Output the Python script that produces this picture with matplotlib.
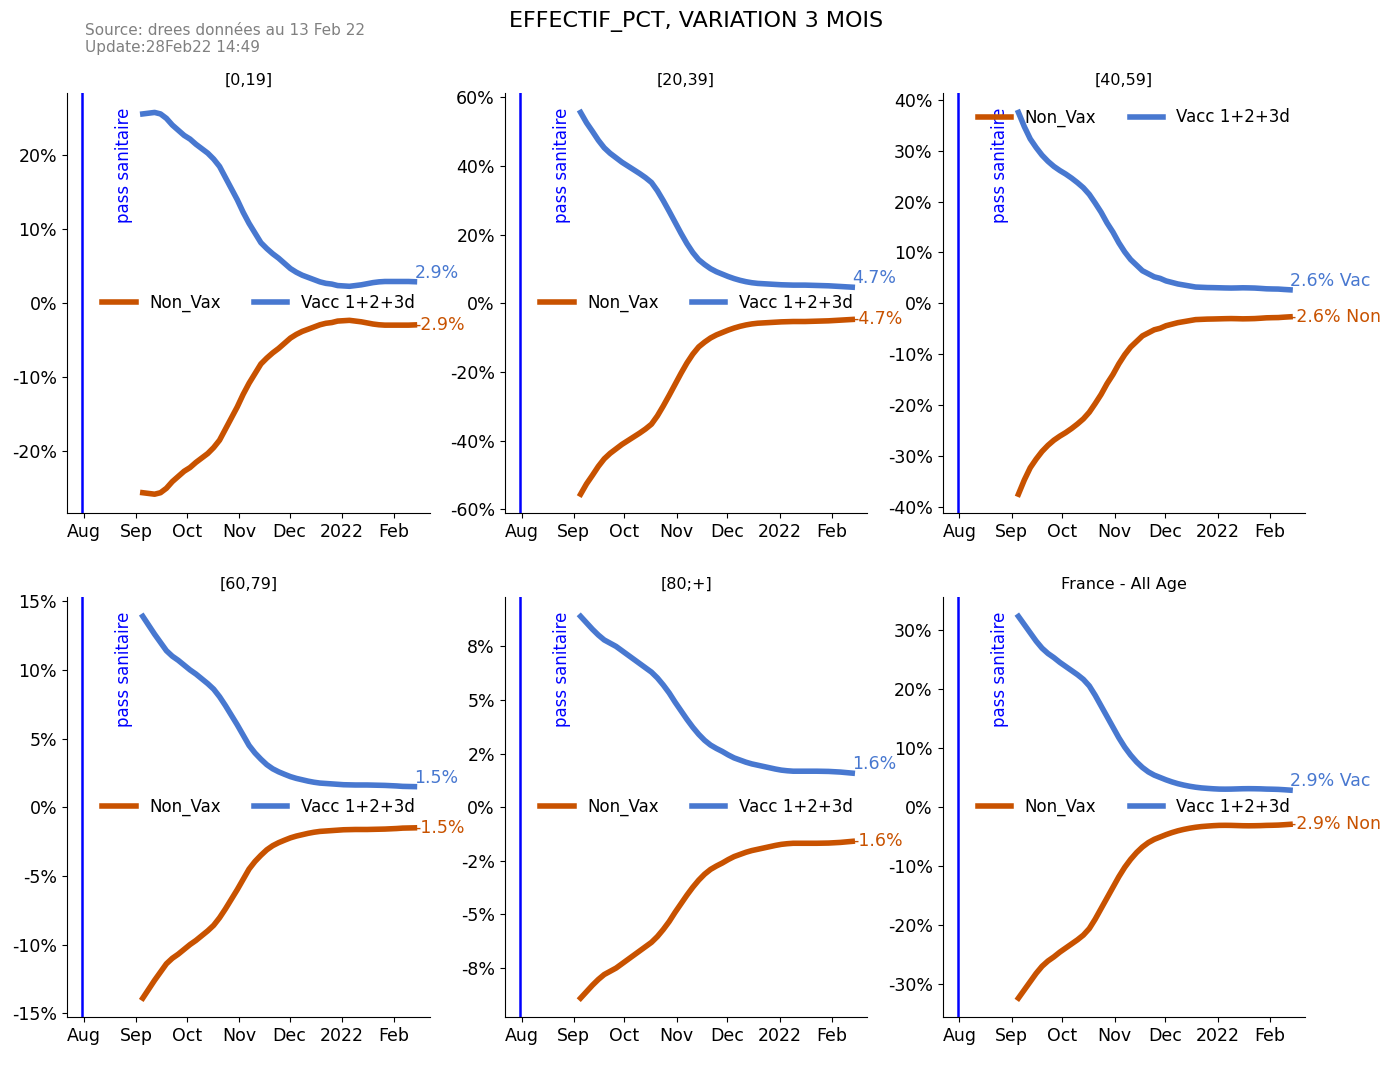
import matplotlib
matplotlib.use('Agg')
import matplotlib.pyplot as plt
import matplotlib.dates as mdates
import matplotlib.transforms as mtransforms
from matplotlib.ticker import FuncFormatter
import pandas as pd

# half-week points (every 3.5 days), 3-month variation of headcount (%)
dates = pd.date_range('2021-09-05', '2022-02-13', freq='84h')

titles = ['[0,19]', '[20,39]', '[40,59]', '[60,79]', '[80;+]', 'France - All Age']

vacc_0_19 = [25.6, 25.7, 25.8, 25.6, 25.0, 24.1, 23.4, 22.7, 22.2, 21.5, 20.9, 20.3,
             19.5, 18.5, 17.0, 15.5, 14.0, 12.3, 10.8, 9.5, 8.2, 7.4, 6.7, 6.1,
             5.4, 4.7, 4.2, 3.8, 3.5, 3.2, 2.9, 2.7, 2.6, 2.4, 2.35, 2.3,
             2.4, 2.5, 2.65, 2.8, 2.9, 2.95, 2.95, 2.95, 2.95, 2.95, 2.92]
nonvax_0_19 = [-25.6, -25.7, -25.8, -25.6, -25.0, -24.1, -23.4, -22.7, -22.2, -21.5, -20.9, -20.3,
               -19.5, -18.5, -17.0, -15.5, -14.0, -12.3, -10.8, -9.5, -8.2, -7.4, -6.7, -6.1,
               -5.4, -4.7, -4.2, -3.8, -3.5, -3.2, -2.9, -2.7, -2.6, -2.4, -2.35, -2.3,
               -2.4, -2.5, -2.65, -2.8, -2.9, -2.95, -2.95, -2.95, -2.95, -2.95, -2.92]

vacc_20_39 = [55.6, 52.6, 50.1, 47.5, 45.3, 43.7, 42.4, 41.1, 40.0, 38.9, 37.8, 36.6,
              35.2, 32.8, 29.9, 26.8, 23.6, 20.4, 17.4, 14.8, 12.7, 11.3, 10.1, 9.2,
              8.5, 7.8, 7.2, 6.7, 6.3, 6.0, 5.8, 5.7, 5.6, 5.5, 5.4, 5.35,
              5.3, 5.3, 5.3, 5.25, 5.2, 5.15, 5.1, 5.0, 4.9, 4.8, 4.7]
nonvax_20_39 = [-55.6, -52.6, -50.1, -47.5, -45.3, -43.7, -42.4, -41.1, -40.0, -38.9, -37.8, -36.6,
                -35.2, -32.8, -29.9, -26.8, -23.6, -20.4, -17.4, -14.8, -12.7, -11.3, -10.1, -9.2,
                -8.5, -7.8, -7.2, -6.7, -6.3, -6.0, -5.8, -5.7, -5.6, -5.5, -5.4, -5.35,
                -5.3, -5.3, -5.3, -5.25, -5.2, -5.15, -5.1, -5.0, -4.9, -4.8, -4.7]

vacc_40_59 = [37.5, 34.7, 32.3, 30.6, 29.1, 27.9, 26.9, 26.1, 25.4, 24.6, 23.7, 22.7,
              21.4, 19.7, 17.9, 15.8, 14.0, 11.9, 10.1, 8.6, 7.5, 6.4, 5.8, 5.2,
              4.9, 4.4, 4.1, 3.8, 3.6, 3.4, 3.2, 3.15, 3.1, 3.08, 3.05, 3.02,
              3.0, 3.02, 3.05, 3.03, 3.0, 2.93, 2.85, 2.82, 2.8, 2.72, 2.65]
nonvax_40_59 = [-37.5, -34.7, -32.3, -30.6, -29.1, -27.9, -26.9, -26.1, -25.4, -24.6, -23.7, -22.7,
                -21.4, -19.7, -17.9, -15.8, -14.0, -11.9, -10.1, -8.6, -7.5, -6.4, -5.8, -5.2,
                -4.9, -4.4, -4.1, -3.8, -3.6, -3.4, -3.2, -3.15, -3.1, -3.08, -3.05, -3.02,
                -3.0, -3.02, -3.05, -3.03, -3.0, -2.93, -2.85, -2.82, -2.8, -2.72, -2.65]

vacc_60_79 = [13.9, 13.25, 12.6, 12.0, 11.4, 11.0, 10.7, 10.35, 10.0, 9.7, 9.35, 9.0,
              8.6, 8.05, 7.4, 6.7, 6.0, 5.25, 4.5, 3.95, 3.5, 3.1, 2.8, 2.58,
              2.4, 2.23, 2.1, 2.0, 1.9, 1.82, 1.76, 1.73, 1.7, 1.67, 1.64, 1.63,
              1.62, 1.62, 1.62, 1.61, 1.6, 1.59, 1.57, 1.55, 1.52, 1.51, 1.5]
nonvax_60_79 = [-13.9, -13.25, -12.6, -12.0, -11.4, -11.0, -10.7, -10.35, -10.0, -9.7, -9.35, -9.0,
                -8.6, -8.05, -7.4, -6.7, -6.0, -5.25, -4.5, -3.95, -3.5, -3.1, -2.8, -2.58,
                -2.4, -2.23, -2.1, -2.0, -1.9, -1.82, -1.76, -1.73, -1.7, -1.67, -1.64, -1.63,
                -1.62, -1.62, -1.62, -1.61, -1.6, -1.59, -1.57, -1.55, -1.52, -1.51, -1.5]

vacc_80 = [8.9, 8.6, 8.3, 8.03, 7.8, 7.65, 7.5, 7.3, 7.1, 6.9, 6.7, 6.5,
           6.3, 6.03, 5.7, 5.33, 4.9, 4.5, 4.1, 3.73, 3.4, 3.12, 2.9, 2.74,
           2.6, 2.44, 2.3, 2.2, 2.1, 2.02, 1.96, 1.9, 1.84, 1.78, 1.73, 1.7,
           1.68, 1.68, 1.68, 1.68, 1.68, 1.675, 1.67, 1.655, 1.64, 1.615, 1.59]
nonvax_80 = [-8.9, -8.6, -8.3, -8.03, -7.8, -7.65, -7.5, -7.3, -7.1, -6.9, -6.7, -6.5,
             -6.3, -6.03, -5.7, -5.33, -4.9, -4.5, -4.1, -3.73, -3.4, -3.12, -2.9, -2.74,
             -2.6, -2.44, -2.3, -2.2, -2.1, -2.02, -1.96, -1.9, -1.84, -1.78, -1.73, -1.7,
             -1.68, -1.68, -1.68, -1.68, -1.68, -1.675, -1.67, -1.655, -1.64, -1.615, -1.59]

vacc_all = [32.4, 31.0, 29.6, 28.2, 27.0, 26.1, 25.4, 24.6, 23.9, 23.2, 22.5, 21.7,
            20.6, 19.0, 17.2, 15.4, 13.6, 11.8, 10.2, 8.85, 7.7, 6.75, 6.0, 5.45,
            5.05, 4.65, 4.3, 4.0, 3.76, 3.56, 3.4, 3.28, 3.2, 3.13, 3.08, 3.07,
            3.08, 3.11, 3.14, 3.15, 3.14, 3.12, 3.08, 3.06, 3.03, 2.97, 2.9]
nonvax_all = [-32.4, -31.0, -29.6, -28.2, -27.0, -26.1, -25.4, -24.6, -23.9, -23.2, -22.5, -21.7,
              -20.6, -19.0, -17.2, -15.4, -13.6, -11.8, -10.2, -8.85, -7.7, -6.75, -6.0, -5.45,
              -5.05, -4.65, -4.3, -4.0, -3.76, -3.56, -3.4, -3.28, -3.2, -3.13, -3.08, -3.07,
              -3.08, -3.11, -3.14, -3.15, -3.14, -3.12, -3.08, -3.06, -3.03, -2.97, -2.9]

vacc_series = [vacc_0_19, vacc_20_39, vacc_40_59, vacc_60_79, vacc_80, vacc_all]
nonvax_series = [nonvax_0_19, nonvax_20_39, nonvax_40_59, nonvax_60_79, nonvax_80, nonvax_all]
# end labels carry a short name in some panels
label_suffix = ['', '', ' Vac', '', '', ' Vac']
label_suffix_non = ['', '', ' Non', '', '', ' Non']
legend_loc = ['center right', 'center right', 'upper right', 'center right', 'center right', 'center right']

pass_date = pd.Timestamp('2021-07-31')
c_non = '#c85200'
c_vac = '#4878d0'

fig, axes = plt.subplots(2, 3, figsize=(13.93, 10.73), dpi=100)
fig.subplots_adjust(left=0.048, right=0.937, top=0.913, bottom=0.052, wspace=0.207, hspace=0.2)

pct = FuncFormatter(lambda v, p: '{:.0f}%'.format(round(v, 6) + 0.0))

for i, ax in enumerate(axes.flat):
    vac = vacc_series[i]
    non = nonvax_series[i]
    ax.plot(dates, non, color=c_non, lw=4, label='Non_Vax')
    ax.plot(dates, vac, color=c_vac, lw=4, label='Vacc 1+2+3d')
    lim = max(max(vac), -min(non)) * 1.1
    ax.set_ylim(-lim, lim)
    ax.set_xlim(pd.Timestamp('2021-07-22'), pd.Timestamp('2022-02-22'))
    ax.axvline(pass_date, color='blue', lw=1.8)
    trans = mtransforms.blended_transform_factory(ax.transData, ax.transAxes)
    ax.text(pass_date + pd.Timedelta(days=25), 0.965, 'pass sanitaire', rotation=90,
            color='blue', fontsize=12, ha='center', va='top', transform=trans)
    ax.text(dates[-1], vac[-1], '{:.1f}%'.format(vac[-1]) + label_suffix[i],
            color=c_vac, fontsize=12.5, ha='left', va='bottom')
    ax.text(dates[-1], non[-1], '{:.1f}%'.format(non[-1]) + label_suffix_non[i],
            color=c_non, fontsize=12.5, ha='left', va='center')
    loc = mdates.AutoDateLocator()
    ax.xaxis.set_major_locator(loc)
    ax.xaxis.set_major_formatter(mdates.ConciseDateFormatter(loc))
    ax.yaxis.set_major_formatter(pct)
    ax.tick_params(labelsize=12.5)
    ax.spines['top'].set_visible(False)
    ax.spines['right'].set_visible(False)
    ax.set_title(titles[i], fontsize=11.5)
    ax.legend(loc=legend_loc[i], ncol=2, frameon=False, fontsize=12)

fig.suptitle('EFFECTIF_PCT, VARIATION 3 MOIS', fontsize=16, y=0.99)
fig.text(0.061, 0.979, 'Source: drees données au 13 Feb 22\nUpdate:28Feb22 14:49',
         color='gray', fontsize=11, ha='left', va='top', linespacing=1.2)

plt.savefig('out.png', dpi=100)
